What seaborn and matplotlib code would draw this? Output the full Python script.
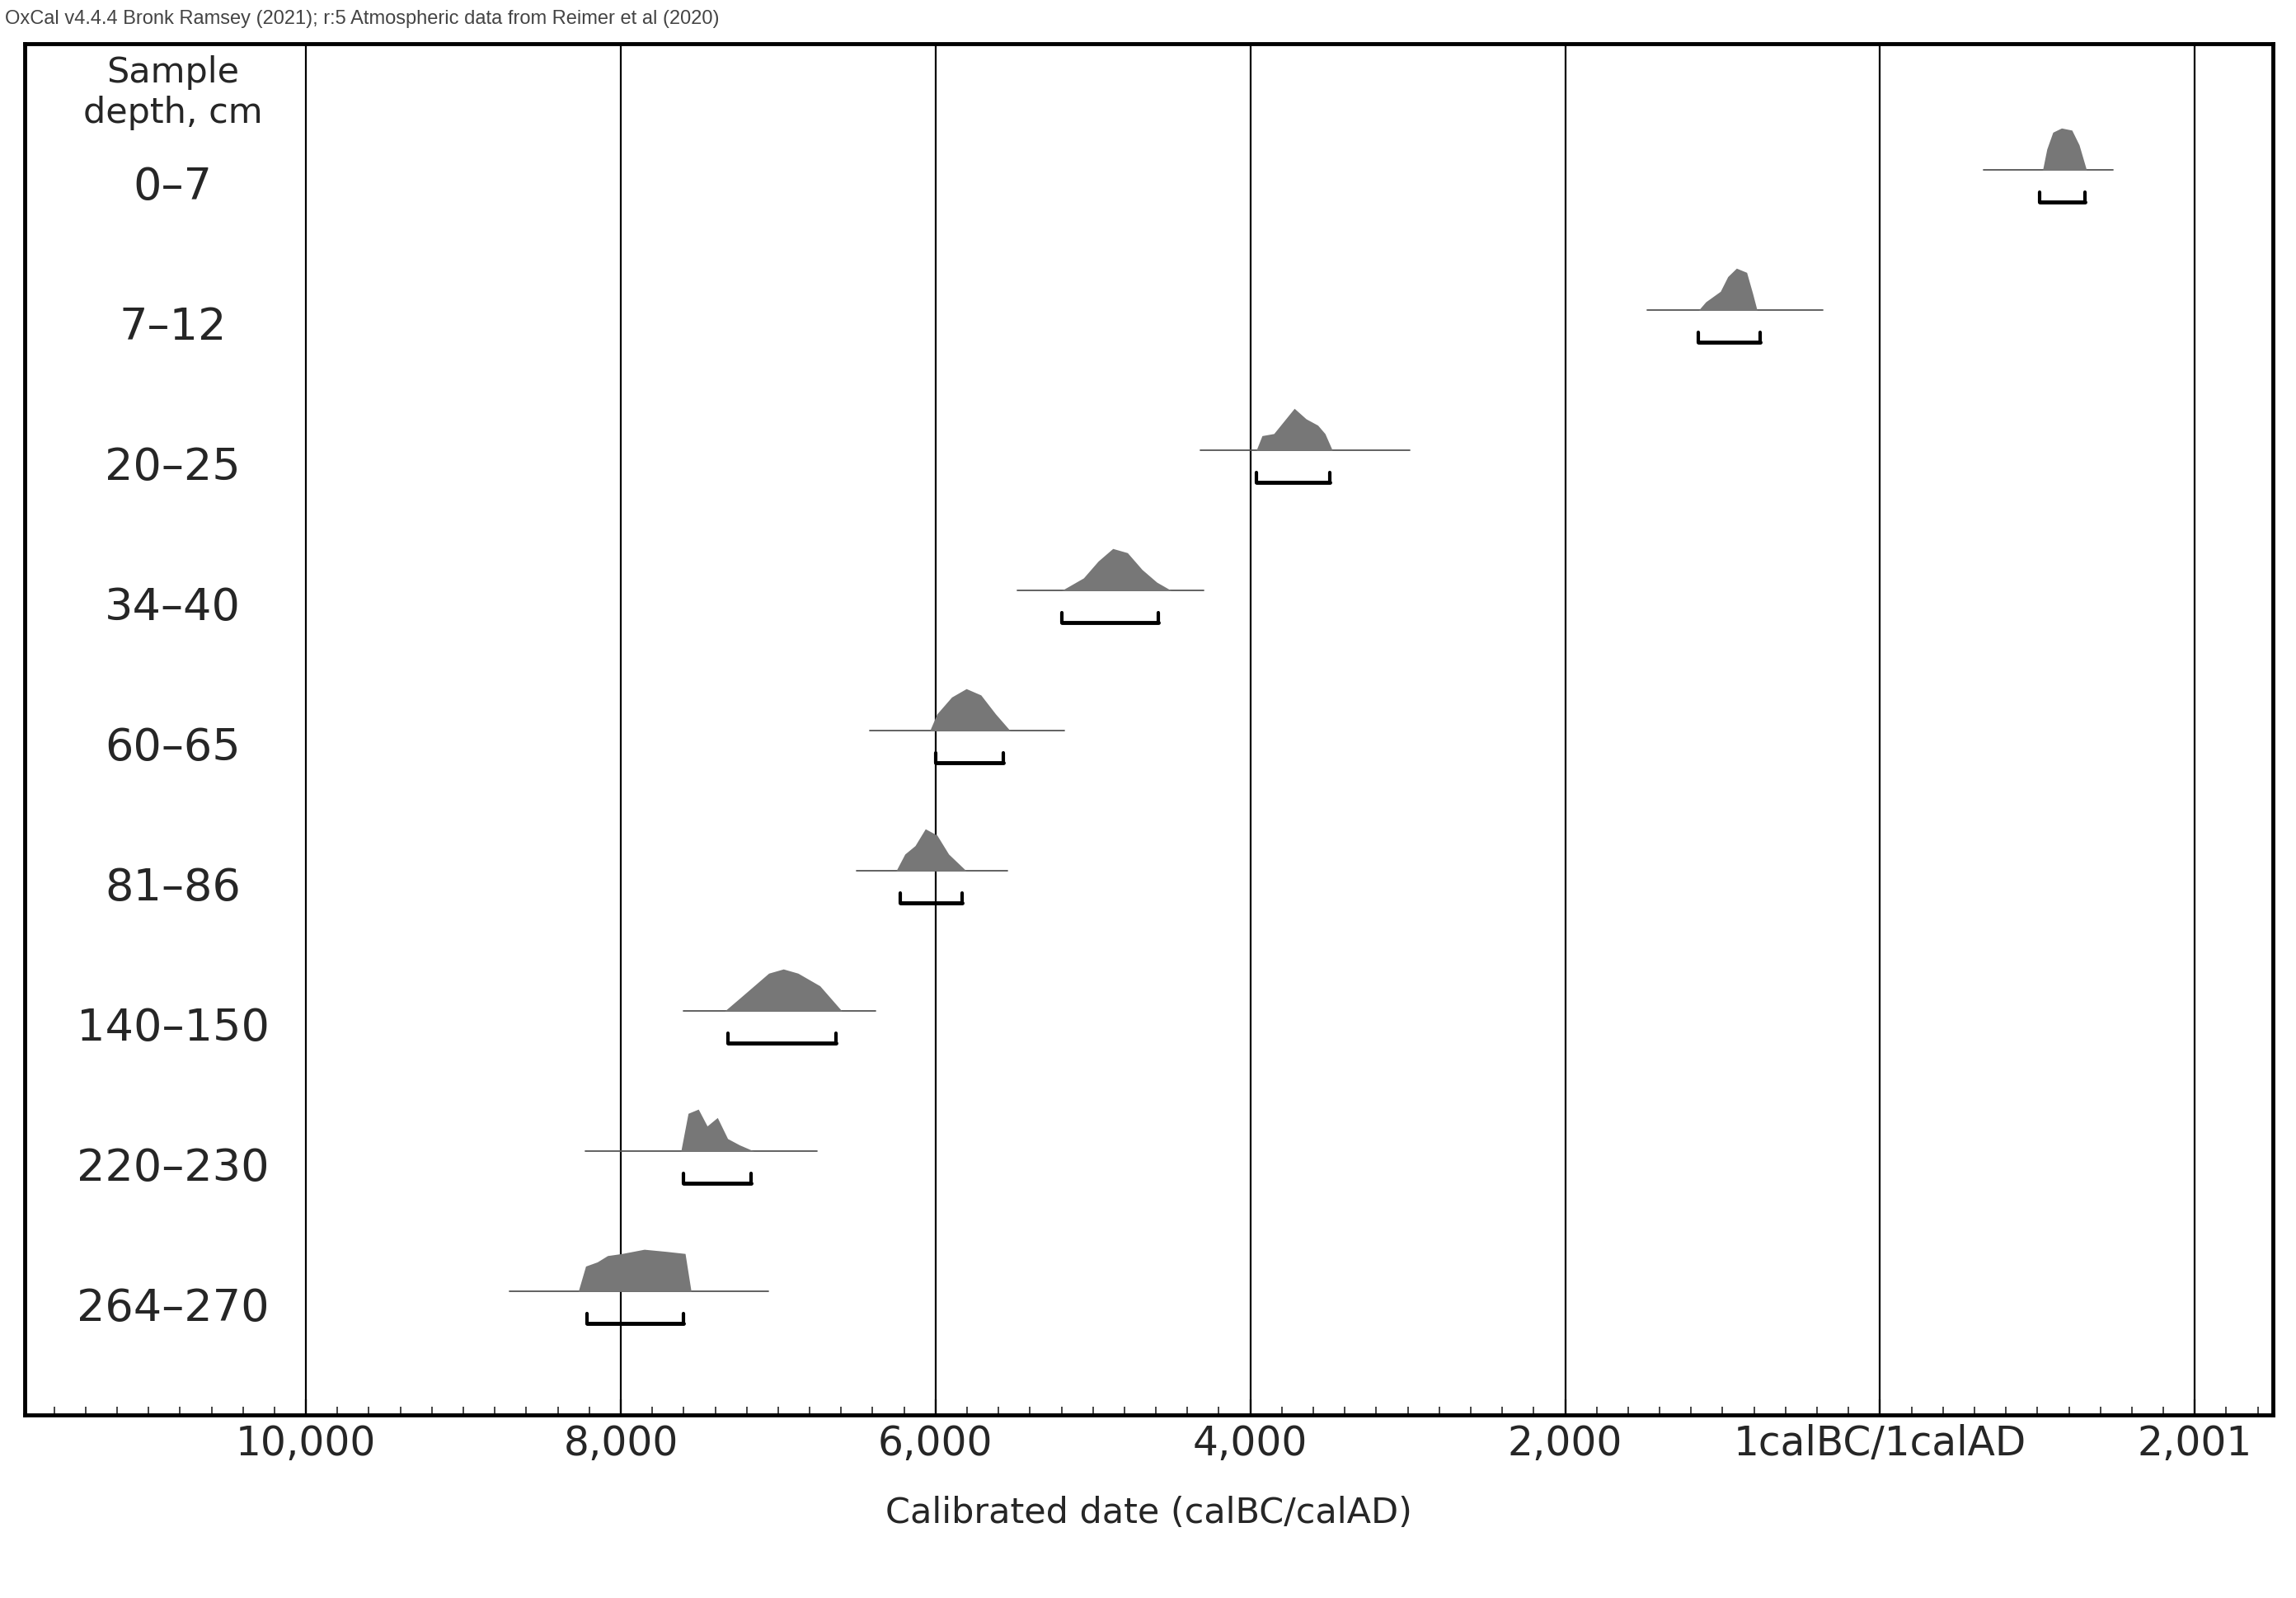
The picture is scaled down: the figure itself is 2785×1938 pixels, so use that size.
import matplotlib
matplotlib.use("Agg")
import matplotlib.pyplot as plt
import seaborn as sns
import numpy as np
from matplotlib.ticker import MultipleLocator

sns.set_style("white")
plt.rcParams['font.family'] = ['DejaVu Sans']

samples = ["0–7", "7–12", "20–25", "34–40", "60–65", "81–86", "140–150", "220–230", "264–270"]
dens_years = [
    [1033, 1060, 1098, 1153, 1219, 1265, 1312],
    [-1153, -1107, -1014, -967, -912, -847, -809, -781],
    [-3963, -3926, -3851, -3786, -3721, -3646, -3572, -3526, -3479],
    [-5200, -5153, -5060, -4967, -4874, -4781, -4688, -4595, -4502],
    [-6037, -5991, -5898, -5805, -5712, -5619, -5526],
    [-6251, -6195, -6130, -6065, -5991, -5917, -5805],
    [-7340, -7246, -7153, -7060, -6967, -6874, -6735, -6595],
    [-7618, -7572, -7507, -7451, -7386, -7321, -7246, -7153],
    [-8270, -8223, -8149, -8084, -7991, -7851, -7712, -7591, -7553],
]
dens_vals = [
    [0, 0.5, 0.9, 1, 0.95, 0.6, 0],
    [0, 0.2, 0.45, 0.8, 1, 0.9, 0.4, 0],
    [0, 0.35, 0.4, 0.7, 1, 0.75, 0.6, 0.4, 0],
    [0, 0.1, 0.3, 0.7, 1, 0.9, 0.5, 0.2, 0],
    [0, 0.4, 0.8, 1, 0.85, 0.4, 0],
    [0, 0.4, 0.6, 1, 0.85, 0.4, 0],
    [0, 0.3, 0.6, 0.9, 1, 0.9, 0.6, 0],
    [0, 0.9, 1, 0.6, 0.8, 0.3, 0.15, 0],
    [0, 0.6, 0.7, 0.85, 0.9, 1, 0.95, 0.9, 0],
]
line_start = [660, -1479, -4316, -5479, -6419, -6502, -7600, -8223, -8707]
line_end = [1479, -363, -2986, -4298, -5181, -5544, -6381, -6753, -7060]
range_start = [1014, -1153, -3963, -5200, -6000, -6223, -7321, -7600, -8214]
range_end = [1302, -763, -3498, -4586, -5572, -5833, -6632, -7172, -7600]

grid_years = [-10000, -8000, -6000, -4000, -2000, 0, 2001]
grid_labels = ["10,000", "8,000", "6,000", "4,000", "2,000", "1calBC/1calAD", "2,001"]

fig = plt.figure(figsize=(27.85, 19.38), dpi=100)
ax = fig.add_axes([0.0108, 0.1147, 0.979, 0.8578])
ax.set_xlim(-11786, 2494)
ax.set_ylim(8.88, -0.9)

for g in grid_years:
    ax.axvline(g, color="black", lw=1.6, zorder=1)

H = 0.30
for i in range(len(samples)):
    xs = np.array(dens_years[i]); ys = np.array(dens_vals[i])
    ax.fill_between(xs, i, i - H * ys, color="#777777", lw=0, zorder=3)
    ax.plot([line_start[i], line_end[i]], [i, i], color="#555555", lw=1.3, zorder=2)
    yb = i + 0.23
    ax.plot([range_start[i], range_end[i]], [yb, yb], color="black", lw=3.5, zorder=3)
    for xe in (range_start[i], range_end[i]):
        ax.plot([xe, xe], [yb, yb - 0.07], color="black", lw=3, zorder=3)
    ax.text(-10846, i + 0.12, samples[i], fontsize=39, ha="center", va="center")

ax.text(-10846, -0.55, "Sample\ndepth, cm", fontsize=31, ha="center", va="center", linespacing=1.2)

ax.set_xticks(grid_years)
ax.set_xticklabels(grid_labels, fontsize=35)
ax.xaxis.set_minor_locator(MultipleLocator(200))
ax.tick_params(axis="x", which="major", length=14, width=1.6, direction="in", bottom=True, pad=8)
ax.tick_params(axis="x", which="minor", length=7, width=1.2, direction="in", bottom=True)
ax.set_yticks([])
for s in ax.spines.values():
    s.set_linewidth(3.5)
    s.set_color("black")
ax.set_xlabel("Calibrated date (calBC/calAD)", fontsize=31, labelpad=28)
fig.text(0.002, 0.994, "OxCal v4.4.4 Bronk Ramsey (2021); r:5 Atmospheric data from Reimer et al (2020)",
         fontsize=17, color="#444444", ha="left", va="top", family=["Liberation Sans", "DejaVu Sans"])

fig.savefig("out.png", dpi=100, facecolor="white")
